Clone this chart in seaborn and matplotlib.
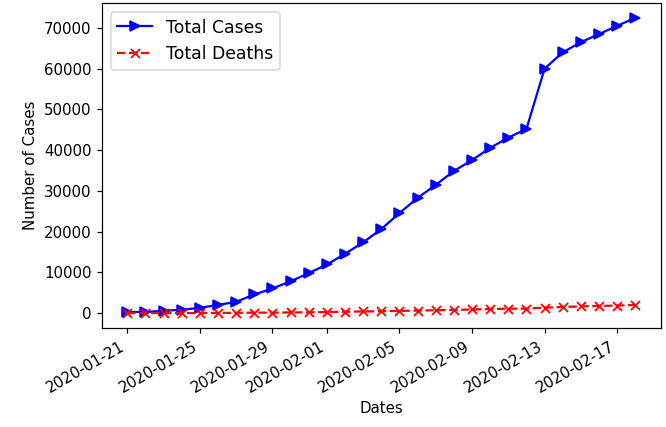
import pandas as pd
import matplotlib
matplotlib.use('Agg')
import matplotlib.pyplot as plt
import matplotlib.dates as mdates
import seaborn as sns

# data
dates = pd.date_range('2020-01-21', '2020-02-18', freq='D')
total_cases = [282, 314, 581, 846, 1320, 2014, 2798, 4593, 6065, 7818,
               9826, 11953, 14557, 17391, 20630, 24554, 28276, 31481, 34886, 37558,
               40554, 43103, 45171, 60000, 64000, 66500, 68500, 70500, 72500]
total_deaths = [6, 17, 18, 26, 42, 56, 82, 131, 133, 171,
                213, 259, 362, 426, 492, 564, 634, 719, 806, 906,
                1013, 1113, 1118, 1371, 1523, 1666, 1770, 1868, 2007]

df = pd.DataFrame({'Dates': dates, 'cases': total_cases, 'deaths': total_deaths})

plt.rcParams['font.family'] = ['DejaVu Sans']

DPI = 108
fig, ax = plt.subplots(figsize=(666 / DPI, 427 / DPI), dpi=DPI)
sns.lineplot(data=df, x='Dates', y='cases', ax=ax, color='blue', marker='>',
             markersize=7, markeredgecolor='blue', markeredgewidth=1,
             label='Total Cases')
sns.lineplot(data=df, x='Dates', y='deaths', ax=ax, color='red', marker='x',
             markersize=6, linestyle='--', markeredgecolor='red',
             markeredgewidth=1.2, label='Total Deaths')

ax.xaxis.set_major_locator(mdates.DayLocator(bymonthday=range(1, 32, 4)))
ax.xaxis.set_major_formatter(mdates.DateFormatter('%Y-%m-%d'))
ax.set_xlabel('Dates')
ax.set_ylabel('Number of Cases')
ax.legend(loc='upper left', fontsize=11.5)
fig.autofmt_xdate()
fig.subplots_adjust(left=0.153, right=0.992, bottom=0.232, top=0.993)

fig.savefig('out.png', dpi=DPI)
